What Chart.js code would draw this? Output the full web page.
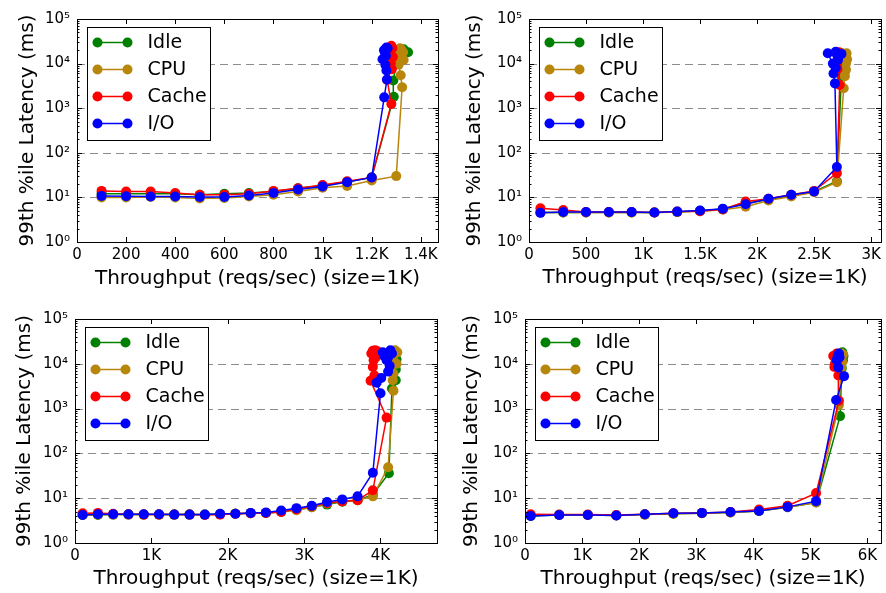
<!DOCTYPE html>
<html><head><meta charset="utf-8">
<script src="https://cdn.jsdelivr.net/npm/chart.js@4/dist/chart.umd.min.js"></script>
<style>
html,body{margin:0;padding:0;background:#fff;width:886px;height:593px;overflow:hidden;}
canvas{position:absolute;}
</style></head><body>
<canvas id="c1" width="443" height="296" style="left:0;top:0"></canvas>
<canvas id="c2" width="443" height="296" style="left:443px;top:0"></canvas>
<canvas id="c3" width="443" height="297" style="left:0;top:296px"></canvas>
<canvas id="c4" width="443" height="297" style="left:443px;top:296px"></canvas>
<script>
const seriesNames = ['Idle', 'CPU', 'Cache', 'I/O'];
const seriesColors = ['#008000', '#b8860b', '#ff0000', '#0000ff'];
const yTickValues = [1, 10, 100, 1000, 10000, 100000];
const yTickLabels = ['10⁰', '10¹', '10²', '10³', '10⁴', '10⁵'];
const xTitleText = 'Throughput (reqs/sec) (size=1K)';
const yTitleText = '99th %ile Latency (ms)';

// Panel 1
const xTicks1 = [0, 200, 400, 600, 800, 1000, 1200, 1400];
const xTickLabels1 = ['0', '200', '400', '600', '800', '1K', '1.2K', '1.4K'];
const idleX1 = [100,200,300,400,500,600,700,800,900,1000,1100,1200,1290,1288,1300,1310,1322,1335,1348,1330,1315,1300];
const idleY1 = [12,12,12,12,11.5,12,12.5,13.5,16,18.5,22,28,1800,4200,10000,13000,17000,19000,18000,21000,20000,15000];
const cpuX1 = [100,200,300,400,500,600,700,800,900,1000,1100,1200,1300,1324,1318,1310,1330,1300,1295,1315,1328,1305,1320];
const cpuY1 = [10,10,10.2,10,9.5,9.7,10.5,11.5,13.5,16.5,18,24,30,2950,5500,9500,12000,16000,20000,22000,18000,13000,21000];
const cacheX1 = [100,200,300,400,500,600,700,800,900,1000,1100,1200,1280,1263,1282,1278,1286,1275,1284,1280,1270];
const cacheY1 = [14,13.5,13.5,12.5,11.5,11.5,12,14,16,19,23,28,1250,4300,7500,10000,14000,18000,22000,25000,20000];
const ioX1 = [100,200,300,400,500,600,700,800,900,1000,1100,1200,1251,1262,1260,1256,1244,1255,1260,1250,1258,1265];
const ioY1 = [10.8,10.6,10.5,10.5,10.2,10.2,11,12.5,15,17.5,22,28,1750,4400,7000,9300,12500,17000,23000,20000,15000,22000];

// Panel 2
const xTicks2 = [0, 500, 1000, 1500, 2000, 2500, 3000];
const xTickLabels2 = ['0', '500', '1K', '1.5K', '2K', '2.5K', '3K'];
const idleX2 = [100,300,500,700,900,1100,1300,1500,1700,1900,2100,2300,2500,2700,2740,2735,2750,2725,2740,2755,2730];
const idleY2 = [4.6,4.6,4.6,4.6,4.6,4.6,4.7,5,5.5,7.5,8.8,11,13.5,23,5200,8000,11000,14000,17000,15000,12000];
const cpuX2 = [100,300,500,700,900,1100,1300,1500,1700,1900,2100,2300,2500,2700,2760,2770,2780,2790,2785,2775,2780,2770];
const cpuY2 = [4.6,4.6,4.6,4.6,4.6,4.6,4.7,4.9,5.3,6.2,8.5,10.5,13,22,2800,5200,7300,12500,17000,15000,10000,6500];
const cacheX2 = [100,300,500,700,900,1100,1300,1500,1700,1900,2100,2300,2500,2700,2725,2705,2700,2715,2720,2710,2700];
const cacheY2 = [5.7,5.2,4.7,4.7,4.7,4.6,4.8,4.9,5.4,8.1,9.3,11.5,14,35,3300,7500,11000,15000,18000,13000,9000];
const ioX2 = [100,300,500,700,900,1100,1300,1500,1700,1900,2100,2300,2500,2700,2683,2670,2665,2620,2690,2700,2740,2710,2690];
const ioY2 = [4.5,4.7,4.7,4.7,4.7,4.6,4.8,5.1,5.6,7,9.3,11.5,13.5,48,3600,6000,10000,17000,18500,16000,16500,12000,8000];

// Panel 3
const xTicks3 = [0, 1000, 2000, 3000, 4000];
const xTickLabels3 = ['0', '1K', '2K', '3K', '4K'];
const idleX3 = [100,300,500,700,900,1100,1300,1500,1700,1900,2100,2300,2500,2700,2900,3100,3300,3500,3700,3900,4110,4150,4200,4200,4210,4180,4160,4140,4120];
const idleY3 = [4.2,4.2,4.3,4.3,4.3,4.3,4.3,4.3,4.3,4.4,4.5,4.6,4.7,5.0,5.5,6.3,7.2,8.3,9,12,36,2800,4300,7500,12500,19000,17000,14000,11000];
const cpuX3 = [100,300,500,700,900,1100,1300,1500,1700,1900,2100,2300,2500,2700,2900,3100,3300,3500,3700,3900,4100,4170,4160,4170,4210,4220,4190,4160,4150];
const cpuY3 = [4.2,4.3,4.3,4.3,4.3,4.3,4.3,4.3,4.3,4.4,4.5,4.6,4.7,4.9,5.4,6.3,7.6,8.5,9,11,49,2500,4300,6000,10000,18000,20000,15000,12000];
const cacheX3 = [100,300,500,700,900,1100,1300,1500,1700,1900,2100,2300,2500,2700,2900,3100,3300,3500,3700,3900,4080,3870,3920,3900,3910,3880,3930,3960,3940,3900];
const cacheY3 = [4.6,4.7,4.5,4.4,4.3,4.3,4.3,4.3,4.2,4.3,4.5,4.6,4.7,4.9,5.7,6.6,7.8,8.5,9,15,630,4200,5500,8500,12000,17000,20000,19000,14000,19500];
const ioX3 = [100,300,500,700,900,1100,1300,1500,1700,1900,2100,2300,2500,2700,2900,3100,3300,3500,3700,3900,4000,3950,4010,4100,4120,4080,4050,4030,4130,4150,4100];
const ioY3 = [4.2,4.4,4.4,4.4,4.4,4.4,4.3,4.3,4.3,4.5,4.5,4.7,4.8,5.3,6.0,6.8,8.2,9.4,11,37,2200,3800,4800,6700,9000,12000,15000,18000,20000,17000,14000];

// Panel 4
const xTicks4 = [0, 1000, 2000, 3000, 4000, 5000, 6000];
const xTickLabels4 = ['0', '1K', '2K', '3K', '4K', '5K', '6K'];
const idleX4 = [100,600,1100,1600,2100,2600,3100,3600,4100,4600,5100,5520,5550,5570,5580,5560,5540,5500];
const idleY4 = [4.0,4.2,4.2,4.1,4.3,4.5,4.6,4.8,5.2,6.3,8.0,680,8000,12000,15000,18000,14000,11000];
const cpuX4 = [100,600,1100,1600,2100,2600,3100,3600,4100,4600,5100,5500,5540,5560,5570,5550,5520,5480,5450];
const cpuY4 = [4.1,4.2,4.2,4.1,4.3,4.5,4.6,4.8,5.2,6.3,8.0,1200,8000,11000,16000,17000,14000,12000,11000];
const cacheX4 = [100,600,1100,1600,2100,2600,3100,3600,4100,4600,5100,5500,5490,5420,5400,5460,5500,5480,5430];
const cacheY4 = [4.4,4.3,4.3,4.2,4.4,4.6,4.7,4.9,5.6,6.8,13,1500,5500,8500,15000,17000,16000,12000,10000];
const ioX4 = [100,600,1100,1600,2100,2600,3100,3600,4100,4600,5100,5450,5590,5490,5470,5500,5480,5460,5510];
const ioY4 = [4.0,4.2,4.2,4.1,4.4,4.6,4.7,4.9,5.2,6.4,8.6,1550,5300,8300,13000,17000,15000,12000,14000];

const FONT = 'DejaVu Sans';

function pts(xs, ys) { return xs.map((x, i) => ({ x: x, y: ys[i] })); }

const framePlugin = {
  id: 'frame',
  beforeDatasetsDraw(chart) {
    const { ctx, chartArea: a, scales: { y } } = chart;
    ctx.save();
    ctx.strokeStyle = '#8c8c8c';
    ctx.lineWidth = 1;
    ctx.setLineDash([8, 5]);
    y.ticks.forEach(t => {
      const py = Math.round(y.getPixelForValue(t.value)) + 0.5;
      ctx.beginPath(); ctx.moveTo(a.left, py); ctx.lineTo(a.right, py); ctx.stroke();
    });
    ctx.restore();
  },
  afterDatasetsDraw(chart) {
    const { ctx, chartArea: a, scales: { x, y } } = chart;
    ctx.save();
    ctx.strokeStyle = '#000';
    ctx.lineWidth = 1;
    ctx.setLineDash([]);
    ctx.beginPath();
    x.ticks.forEach(t => {
      const px = Math.round(x.getPixelForValue(t.value)) + 0.5;
      ctx.moveTo(px, a.bottom); ctx.lineTo(px, a.bottom - 5);
      ctx.moveTo(px, a.top); ctx.lineTo(px, a.top + 5);
    });
    for (let k = 0; k < 5; k++) {
      for (let m = 1; m < 10; m++) {
        const v = m * Math.pow(10, k);
        const len = m === 1 ? 5 : 2.5;
        const py = Math.round(y.getPixelForValue(v)) + 0.5;
        ctx.moveTo(a.left, py); ctx.lineTo(a.left + len, py);
        ctx.moveTo(a.right, py); ctx.lineTo(a.right - len, py);
      }
    }
    ctx.stroke();
    ctx.strokeRect(Math.round(a.left) + 0.5, Math.round(a.top) + 0.5,
      Math.round(a.right - a.left), Math.round(a.bottom - a.top));
    ctx.restore();
  },
  afterDraw(chart) {
    const { ctx, chartArea: a } = chart;
    const bx = Math.round(a.left) + 10.5, by = Math.round(a.top) + 8.5;
    const bw = 123, bh = 113;
    ctx.save();
    ctx.fillStyle = '#fff';
    ctx.fillRect(bx, by, bw, bh);
    ctx.strokeStyle = '#000';
    ctx.lineWidth = 1;
    ctx.strokeRect(bx, by, bw, bh);
    chart.data.datasets.forEach((ds, i) => {
      const ry = by + 15 + i * 27;
      ctx.strokeStyle = ds.borderColor;
      ctx.lineWidth = 1.5;
      ctx.beginPath(); ctx.moveTo(bx + 10, ry); ctx.lineTo(bx + 40, ry); ctx.stroke();
      ctx.fillStyle = ds.backgroundColor;
      [bx + 10, bx + 40].forEach(cx => {
        ctx.beginPath(); ctx.arc(cx, ry, 5, 0, Math.PI * 2); ctx.fill();
      });
      ctx.fillStyle = '#000';
      ctx.font = '19px "' + FONT + '"';
      ctx.textBaseline = 'middle';
      ctx.textAlign = 'left';
      ctx.fillText(ds.label, bx + 60, ry + 1);
    });
    ctx.restore();
  }
};

function makeChart(id, series, xTicks, xLabels, xMax, lay) {
  const datasets = series.map((s, i) => ({
    label: seriesNames[i],
    data: pts(s[0], s[1]),
    order: series.length - 1 - i,
    showLine: true,
    borderColor: seriesColors[i],
    backgroundColor: seriesColors[i],
    pointBackgroundColor: seriesColors[i],
    pointBorderColor: seriesColors[i],
    borderWidth: 1.5,
    pointRadius: 5,
    pointBorderWidth: 0,
    pointHoverRadius: 5,
    tension: 0,
    clip: false
  }));
  return new Chart(document.getElementById(id), {
    type: 'scatter',
    data: { datasets },
    plugins: [framePlugin],
    options: {
      responsive: false,
      animation: false,
      events: [],
      layout: { padding: { top: lay.padTop, right: lay.padRight, left: 0, bottom: 0 } },
      plugins: { legend: { display: false }, tooltip: { enabled: false } },
      scales: {
        x: {
          type: 'linear', min: 0, max: xMax,
          afterBuildTicks: sc => { sc.ticks = xTicks.map(v => ({ value: v })); },
          afterFit: sc => { sc.height = lay.xHeight; },
          grid: { display: false, drawTicks: false },
          border: { display: false },
          ticks: {
            autoSkip: false, maxRotation: 0, padding: 4, color: '#000',
            font: { family: FONT, size: 15 },
            callback: (v, i) => xLabels[i]
          },
          title: {
            display: true, text: xTitleText, color: '#000',
            font: { family: FONT, size: 20 },
            padding: { top: 0, bottom: lay.xTitlePad }
          }
        },
        y: {
          type: 'logarithmic', min: 1, max: 100000,
          afterBuildTicks: sc => { sc.ticks = yTickValues.map(v => ({ value: v })); },
          afterFit: sc => { sc.width = lay.yWidth; },
          grid: { display: false, drawTicks: false },
          border: { display: false },
          ticks: {
            autoSkip: false, padding: 7, color: '#000',
            font: { family: FONT, size: 15 },
            callback: (v, i) => yTickLabels[i]
          },
          title: {
            display: true, text: yTitleText, color: '#000',
            font: { family: FONT, size: 20 },
            padding: { top: lay.yTitlePad, bottom: 0 }
          }
        }
      }
    }
  });
}

makeChart('c1', [[idleX1, idleY1], [cpuX1, cpuY1], [cacheX1, cacheY1], [ioX1, ioY1]],
  xTicks1, xTickLabels1, 1470,
  { padTop: 19, padRight: 3, xHeight: 54, yWidth: 77, yTitlePad: 16, xTitlePad: 5 });
makeChart('c2', [[idleX2, idleY2], [cpuX2, cpuY2], [cacheX2, cacheY2], [ioX2, ioY2]],
  xTicks2, xTickLabels2, 3087,
  { padTop: 19, padRight: 1, xHeight: 54, yWidth: 86, yTitlePad: 20, xTitlePad: 6 });
makeChart('c3', [[idleX3, idleY3], [cpuX3, cpuY3], [cacheX3, cacheY3], [ioX3, ioY3]],
  xTicks3, xTickLabels3, 4740,
  { padTop: 23, padRight: 6, xHeight: 50, yWidth: 75, yTitlePad: 13, xTitlePad: 2 });
makeChart('c4', [[idleX4, idleY4], [cpuX4, cpuY4], [cacheX4, cacheY4], [ioX4, ioY4]],
  xTicks4, xTickLabels4, 6237,
  { padTop: 23, padRight: 1, xHeight: 50, yWidth: 82, yTitlePad: 17, xTitlePad: 2 });
</script>
</body></html>
